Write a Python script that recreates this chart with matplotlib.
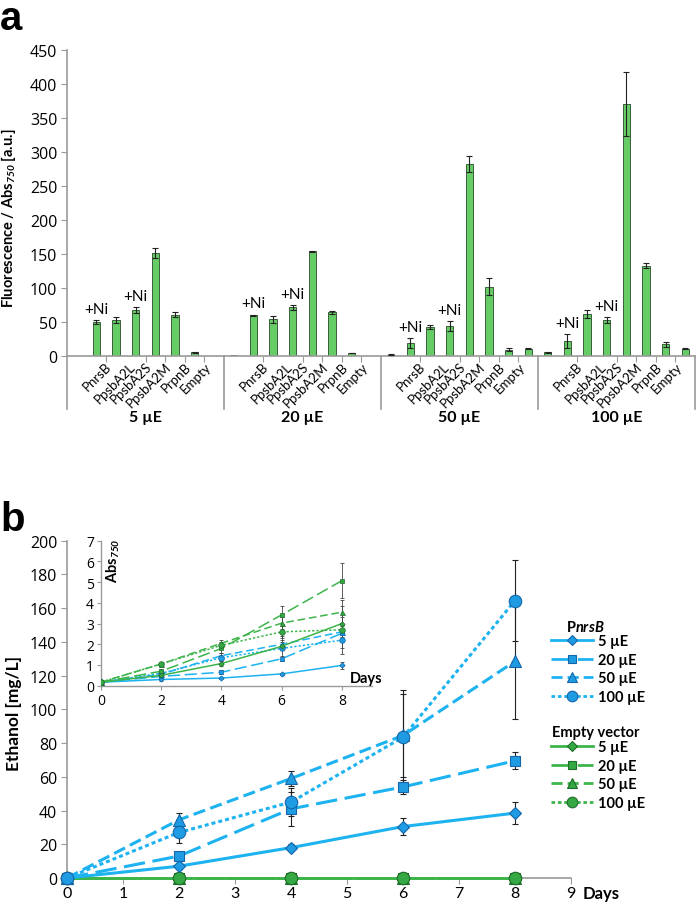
import numpy as np
import matplotlib.pyplot as plt
from matplotlib.lines import Line2D

plt.rcParams['font.family'] = ['Lato', 'DejaVu Sans']
plt.rcParams['mathtext.fontset'] = 'custom'
plt.rcParams['mathtext.rm'] = 'Lato'
plt.rcParams['mathtext.it'] = 'Lato:italic'
plt.rcParams['mathtext.bf'] = 'Lato:bold'
plt.rcParams['mathtext.bfit'] = 'Lato:bold:italic'

# ---- data panel a ----
light_levels = ['5 µE', '20 µE', '50 µE', '100 µE']
promoter_labels = ['PnrsB', 'PpsbA2L', 'PpsbA2S', 'PpsbA2M', 'PrpnB', 'Empty']
# 8 bars per group: PnrsB, PnrsB+Ni, PpsbA2L, PpsbA2L+Ni, PpsbA2S, PpsbA2M, PrpnB, Empty
fluor_5 = [0, 50.5, 53, 67.5, 151.5, 61, 5.4, 0]
err_5 = [0, 3, 4, 4, 8, 4, 0.5, 0]
fluor_20 = [0.8, 60, 54, 71.5, 154, 64, 4.5, 0]
err_20 = [0, 1, 5, 4, 1, 2.5, 0.5, 0]
fluor_50 = [2, 19, 42, 44, 282, 102, 9.5, 11]
err_50 = [0.5, 7, 3, 7, 12, 13, 2, 1]
fluor_100 = [5.5, 22, 61.5, 53, 370, 133, 17, 11]
err_100 = [0.5, 10, 6, 4, 47, 4, 4, 1]
ni_bars = [1, 3]

# ---- data panel b ----
days = [0, 2, 4, 6, 8]
series_labels = ['5 µE', '20 µE', '50 µE', '100 µE']
eth_nrsb_5 = [0, 7, 18, 30.5, 38.5]
eth_nrsb_5_err = [0, 1.5, 2, 5, 6.5]
eth_nrsb_20 = [0, 13, 41, 54, 69.5]
eth_nrsb_20_err = [0, 2, 10, 4, 5]
eth_nrsb_50 = [0, 34.5, 59, 84.5, 128.5]
eth_nrsb_50_err = [0, 4.3, 4.5, 24.5, 34.5]
eth_nrsb_100 = [0, 27, 45, 83.5, 164.5]
eth_nrsb_100_err = [0, 6.5, 8.5, 28, 24]
eth_ev_5 = [0, 0, 0, 0, 0]
eth_ev_20 = [0, 0, 0, 0, 0]
eth_ev_50 = [0, 0, 0, 0, 0]
eth_ev_100 = [0, 0, 0, 0, 0]

abs_nrsb_5 = [0.17, 0.3, 0.37, 0.57, 0.98]
abs_nrsb_5_err = [0.03, 0.05, 0.05, 0.05, 0.18]
abs_nrsb_20 = [0.17, 0.45, 0.65, 1.3, 2.53]
abs_nrsb_20_err = [0.03, 0.08, 0.1, 0.12, 0.2]
abs_nrsb_50 = [0.17, 0.55, 1.45, 2.0, 2.6]
abs_nrsb_50_err = [0.03, 0.08, 0.15, 0.2, 0.3]
abs_nrsb_100 = [0.17, 0.6, 1.35, 1.8, 2.2]
abs_nrsb_100_err = [0.03, 0.08, 0.15, 0.6, 0.4]
abs_ev_5 = [0.17, 0.5, 1.07, 1.9, 3.0]
abs_ev_5_err = [0.03, 0.08, 0.1, 0.2, 0.3]
abs_ev_20 = [0.17, 0.7, 1.8, 3.42, 5.07]
abs_ev_20_err = [0.03, 0.1, 0.2, 0.42, 0.83]
abs_ev_50 = [0.17, 1.05, 2.05, 3.02, 3.55]
abs_ev_50_err = [0.03, 0.1, 0.15, 0.3, 0.6]
abs_ev_100 = [0.17, 1.05, 1.95, 2.6, 2.7]
abs_ev_100_err = [0.03, 0.1, 0.15, 0.3, 1.15]

W, H = 697, 904
fig = plt.figure(figsize=(W / 100, H / 100), dpi=100)


def px_rect(l, t, r, b):
    return [l / W, 1 - b / H, (r - l) / W, (b - t) / H]


num_font = 'Open Sans'
spine_col = '#9a9a9a'
blue = '#1DB2F0'
blue_face = '#1F9BE3'
blue_edge = '#1565A8'
green = '#3DB54A'
green_face = '#35A844'
green_edge = '#1E6B2A'

# ================= panel a =================
ax = fig.add_axes(px_rect(67, 51, 695, 357))
groups = [fluor_5, fluor_20, fluor_50, fluor_100]
group_err = [err_5, err_20, err_50, err_100]
n_slot = 8
for g, (vals, errs) in enumerate(zip(groups, group_err)):
    x = g * n_slot + np.arange(1, n_slot + 1)
    ax.bar(x, vals, width=0.37, color='#66CC66', edgecolor='#3b5e3b', linewidth=0.7, zorder=2)
    errs = np.array(errs)
    m = errs > 0
    ax.errorbar(x[m], np.array(vals)[m], yerr=errs[m], fmt='none', ecolor='#222222',
                elinewidth=0.8, capsize=2, capthick=0.8, zorder=3)
    for i in ni_bars:
        ax.text(x[i], vals[i] + errs[i] + 6, '+Ni', ha='center', va='bottom', fontsize=11)

ax.set_xlim(0.5, 32.5)
ax.set_ylim(0, 450)
ax.set_yticks(np.arange(0, 451, 50))
for s in ['top', 'right']:
    ax.spines[s].set_visible(False)
for s in ['left', 'bottom']:
    ax.spines[s].set_color(spine_col)
    ax.spines[s].set_linewidth(1.2)
ax.tick_params(axis='y', direction='out', length=4, color=spine_col, labelsize=11.5, pad=3,
               labelfontfamily=num_font)

bounds = []
for g in range(4):
    bounds += [g * n_slot + b for b in [2.5, 4.5, 5.5, 6.5, 7.5]]
ax.set_xticks(bounds)
ax.set_xticklabels([])
ax.tick_params(axis='x', direction='out', length=4, color=spine_col)

label_pos = [2.42, 3.64, 4.49, 5.5, 6.5, 7.5]
xtr = ax.get_xaxis_transform()
for g, lev in enumerate(light_levels):
    for p, lab in zip(label_pos, promoter_labels):
        ax.text(g * n_slot + p, -0.012, lab, transform=xtr, rotation=45,
                rotation_mode='anchor', ha='right', va='top', fontsize=9.5)
    ax.text(g * n_slot + 4.5, -0.2, lev, transform=xtr, ha='center', va='center',
            fontsize=11.5, fontweight='bold')
for xs in [0.5, 8.5, 16.5, 24.5, 32.5]:
    ax.plot([xs, xs], [0, -0.173], transform=xtr, color=spine_col, lw=1.2, clip_on=False)

ax.set_ylabel(r'Fluorescence / Abs$_{\mathbfit{750}}$ [a.u.]', fontsize=10.5, fontweight='bold')
ax.yaxis.set_label_coords(-0.078, 0.455)

fig.text(0.0, 1.0, 'a', fontsize=29, fontweight='bold', family='Liberation Sans', va='top')
fig.text(0.0, 1 - 531 / H, 'b', fontsize=29, fontweight='bold', family='Liberation Sans', va='baseline')

# ================= panel b =================
styles = [
    dict(ls='-', marker='D', ms=6),
    dict(ls=(0, (7, 2.5)), marker='s', ms=7.5),
    dict(ls=(0, (4, 1.8)), marker='^', ms=8),
    dict(ls=(0, (1.3, 1.0)), marker='o', ms=9),
]

bx = fig.add_axes(px_rect(67, 541.7, 571, 879))
nrsb_eth = [eth_nrsb_5, eth_nrsb_20, eth_nrsb_50, eth_nrsb_100]
nrsb_eth_err = [eth_nrsb_5_err, eth_nrsb_20_err, eth_nrsb_50_err, eth_nrsb_100_err]
ev_eth = [eth_ev_5, eth_ev_20, eth_ev_50, eth_ev_100]

for vals, st in zip(ev_eth, styles):
    bx.plot(days, vals, color=green, lw=2, ls=st['ls'], marker=st['marker'], ms=st['ms'],
            mfc=green_face, mec=green_edge, mew=0.8, zorder=3, clip_on=False)
for vals, errs, st in zip(nrsb_eth, nrsb_eth_err, styles):
    bx.errorbar(days, vals, yerr=errs, fmt='none', ecolor='#222222', elinewidth=0.8,
                capsize=2.5, capthick=0.8, zorder=2)
    bx.plot(days, vals, color=blue, lw=2.2, ls=st['ls'], marker=st['marker'], ms=st['ms'],
            mfc=blue_face, mec=blue_edge, mew=0.8, zorder=4, clip_on=False)

bx.set_xlim(0, 9)
bx.set_ylim(0, 200)
bx.set_xticks(range(10))
bx.set_yticks(np.arange(0, 201, 20))
for s in ['top', 'right']:
    bx.spines[s].set_visible(False)
for s in ['left', 'bottom']:
    bx.spines[s].set_color(spine_col)
    bx.spines[s].set_linewidth(1.2)
bx.tick_params(axis='y', direction='out', length=4, color=spine_col, labelsize=11.5, pad=3,
               labelfontfamily=num_font)
bx.tick_params(axis='x', direction='out', length=4, color=spine_col, labelsize=11.5, pad=1.5)
bx.set_ylabel('Ethanol [mg/L]', fontsize=12.5, fontweight='bold')
bx.yaxis.set_label_coords(-0.089, 0.49)
bx.text(1.06, -0.045, 'Days', transform=bx.transAxes, ha='center', va='center',
        fontsize=12, fontweight='bold')

# inset
ix = fig.add_axes(px_rect(101, 541.7, 372, 686.7))
ix.patch.set_alpha(0)
nrsb_abs = [abs_nrsb_5, abs_nrsb_20, abs_nrsb_50, abs_nrsb_100]
nrsb_abs_err = [abs_nrsb_5_err, abs_nrsb_20_err, abs_nrsb_50_err, abs_nrsb_100_err]
ev_abs = [abs_ev_5, abs_ev_20, abs_ev_50, abs_ev_100]
ev_abs_err = [abs_ev_5_err, abs_ev_20_err, abs_ev_50_err, abs_ev_100_err]
inset_ls = ['-', (0, (8, 3)), (0, (5, 2.5)), (0, (1.5, 1.3))]
for col, face, edge, data, data_err in [(blue, blue_face, blue_edge, nrsb_abs, nrsb_abs_err),
                                        (green, green_face, green_edge, ev_abs, ev_abs_err)]:
    for vals, errs, st, ls in zip(data, data_err, styles, inset_ls):
        ix.errorbar(days, vals, yerr=errs, fmt='none', ecolor='#444444', elinewidth=0.6,
                    capsize=1.2, capthick=0.6, zorder=2)
        ix.plot(days, vals, color=col, lw=1.1, ls=ls, marker=st['marker'], ms=st['ms'] * 0.45,
                mfc=face, mec=edge, mew=0.5, zorder=3)
ix.set_xlim(0, 9)
ix.set_ylim(0, 7)
ix.set_xticks([0, 2, 4, 6, 8])
ix.set_yticks(range(8))
for s in ['top', 'right']:
    ix.spines[s].set_visible(False)
for s in ['left', 'bottom']:
    ix.spines[s].set_color(spine_col)
    ix.spines[s].set_linewidth(1.0)
ix.tick_params(direction='out', length=3, color=spine_col, labelsize=10, pad=2,
               labelfontfamily=num_font)
ix.text(0.045, 0.87, r'Abs$_{\mathbfit{750}}$', transform=ix.transAxes, rotation=90,
        ha='center', va='center', fontsize=10.5, fontweight='bold')
ix.text(0.98, 0.05, 'Days', transform=ix.transAxes, ha='center', va='center',
        fontsize=10.5, fontweight='bold')


# legends
def handles(col, face, edge):
    return [Line2D([], [], color=col, lw=2, ls=st['ls'], marker=st['marker'], ms=st['ms'] * 0.85,
                   mfc=face, mec=edge, mew=0.8) for st in styles]


leg_kw = dict(loc='upper left', bbox_transform=fig.transFigure, frameon=False,
              prop={'weight': 'bold', 'size': 10.5}, handlelength=2.9, handletextpad=0.35,
              labelspacing=0.32, borderpad=0, borderaxespad=0)
leg1 = bx.legend(handles(blue, blue_face, blue_edge), series_labels,
                 bbox_to_anchor=(551 / W, 1 - 635 / H), **leg_kw)
bx.add_artist(leg1)
bx.legend(handles(green, green_face, green_edge), series_labels,
          bbox_to_anchor=(551 / W, 1 - 741 / H), **leg_kw)
fig.text(566 / W, 1 - 627 / H, r'P$\mathbfit{nrsB}$', fontsize=10.5, fontweight='bold',
         ha='left', va='center')
fig.text(552 / W, 1 - 733 / H, 'Empty vector', fontsize=10.5, fontweight='bold',
         ha='left', va='center')

fig.savefig('out.png', dpi=100)
